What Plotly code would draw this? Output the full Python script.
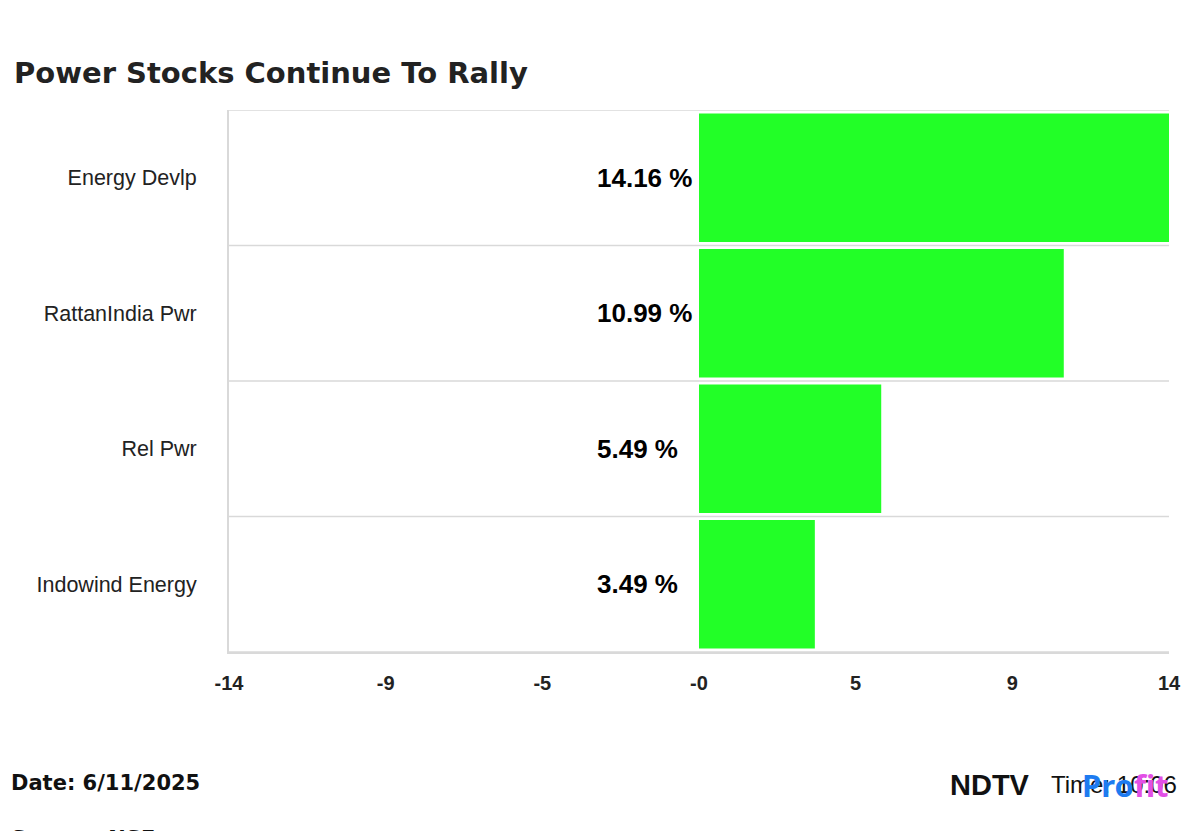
import plotly.graph_objects as go

stocks = ["Energy Devlp", "RattanIndia Pwr", "Rel Pwr", "Indowind Energy"]
change_pct = [14.16, 10.99, 5.49, 3.49]
tick_vals = [-14.16, -9.44, -4.72, 0, 4.72, 9.44, 14.16]
tick_text = ["-14", "-9", "-5", "-0", "5", "9", "14"]

BAR_COLOR = "#22FF27"
GRID = "#D9D9D9"

fig = go.Figure(
    go.Bar(
        x=change_pct,
        y=stocks,
        orientation="h",
        marker=dict(color=BAR_COLOR, line=dict(width=0)),
        width=0.95,
        hoverinfo="skip",
    )
)

# value labels, left of the zero line
for name, v in zip(stocks, change_pct):
    fig.add_annotation(
        x=-3.12, y=name, text=f"<b>{v:.2f} %</b>", showarrow=False,
        xanchor="left", font=dict(family="Liberation Sans", size=26, color="#000"),
    )

# row separators
for k in range(len(stocks) + 1):
    fig.add_shape(type="line", xref="paper", x0=0, x1=1, yref="y", y0=k - 0.5, y1=k - 0.5,
                  line=dict(color=GRID, width=1.5), layer="below")

fig.add_annotation(xref="paper", yref="paper", x=-0.231, y=1.068, yanchor="middle", xanchor="left",
                   text="<b>Power Stocks Continue To Rally</b>", showarrow=False,
                   font=dict(family="DejaVu Sans", size=29, color="#222"))
fig.add_annotation(xref="paper", yref="paper", x=-0.234, y=-0.242, xanchor="left", yanchor="middle",
                   text="<b>Date: 6/11/2025</b>", showarrow=False,
                   font=dict(family="DejaVu Sans", size=21, color="#111"))
fig.add_annotation(xref="paper", yref="paper", x=-0.234, y=-0.345, xanchor="left", yanchor="middle",
                   text="<b>Source: NSE</b>", showarrow=False,
                   font=dict(family="DejaVu Sans", size=21, color="#111"))
fig.add_annotation(xref="paper", yref="paper", x=0.872, y=-0.245, xanchor="left", yanchor="middle",
                   text="Time: 10:06", showarrow=False,
                   font=dict(family="Liberation Sans", size=24, color="#111"))
fig.add_annotation(xref="paper", yref="paper", x=0.765, y=-0.245, xanchor="left", yanchor="middle",
                   text="<b>NDTV</b>", showarrow=False,
                   font=dict(family="Liberation Sans", size=29, color="#111"))
fig.add_annotation(xref="paper", yref="paper", x=0.905, y=-0.245, xanchor="left", yanchor="middle",
                   text="<b><span style='color:#1E7BF0'>Pro</span><span style='color:#E24FE6'>fit</span></b>",
                   showarrow=False, font=dict(family="Noto Sans", size=31))

fig.update_layout(
    width=1200, height=831,
    margin=dict(l=221, r=39, t=102, b=187),
    plot_bgcolor="white", paper_bgcolor="white",
    showlegend=False,
    xaxis=dict(range=[-14.16, 14.16], tickvals=tick_vals, ticktext=tick_text, showgrid=False,
               zeroline=False, showline=True, linecolor=GRID, linewidth=2, ticks="",
               ticklabelstandoff=12,
               tickfont=dict(family="Liberation Sans", size=20, color="#222", weight="bold"),
               fixedrange=True),
    yaxis=dict(range=[3.5, -0.5], autorange=False, showgrid=False, zeroline=False, showline=True,
               linecolor=GRID, linewidth=2, ticks="", ticklabelstandoff=26,
               tickfont=dict(family="Liberation Sans", size=21.5, color="#222")),
)

fig.write_html("out.html")
